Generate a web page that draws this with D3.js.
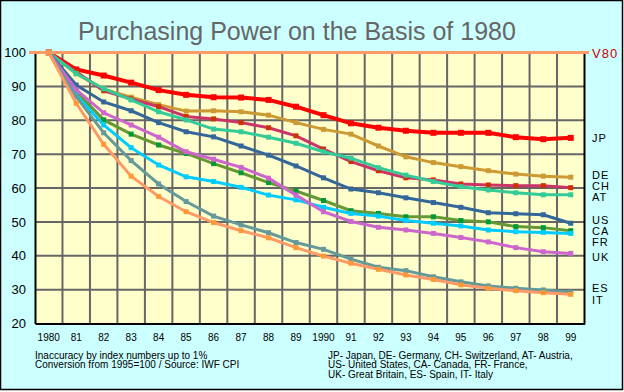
<!DOCTYPE html>
<html><head><meta charset="utf-8">
<script src="https://cdn.jsdelivr.net/npm/d3@7"></script>
<style>body{margin:0;background:#fff}svg{display:block}text{font-family:"Liberation Sans",Arial,sans-serif}</style>
</head><body><svg id="c" width="624" height="392"></svg>
<script>
const years = ["1980","81","82","83","84","85","86","87","88","89","1990","91","92","93","94","95","96","97","98","99"];
const yTicks = [20,30,40,50,60,70,80,90,100];
const seriesNames = ["JP","DE","CH","AT","US","CA","FR","UK","ES","IT"];
const JP = [100,95.0,93.2,91.1,88.9,87.5,86.8,86.7,86.0,84.0,81.5,79.1,77.8,76.9,76.3,76.3,76.3,75.0,74.4,74.8];
const DE = [100,93.7,89.2,86.8,84.6,82.7,82.8,82.5,81.5,79.3,77.3,75.9,72.4,69.2,67.5,66.3,65.1,64.1,63.5,63.2];
const CH = [100,94.3,88.7,86.3,84.0,81.1,80.4,79.3,77.8,75.4,71.5,67.8,65.1,63.0,62.4,61.2,60.9,60.7,60.7,60.1];
const AT = [100,93.8,89.3,86.0,82.5,80.1,77.4,76.6,75.0,73.2,70.7,68.8,66.0,63.8,61.9,60.4,59.4,58.6,58.0,58.0];
const US = [100,90.4,85.4,82.8,79.3,76.6,75.1,72.4,69.7,66.5,63.0,59.7,58.6,57.1,55.7,54.3,52.7,52.4,52.1,49.6];
const CA = [100,88.5,80.1,75.9,72.7,70.2,67.2,64.5,61.6,59.1,56.3,53.3,52.5,51.5,51.5,50.4,50.0,48.6,48.3,47.4];
const FR = [100,87.5,78.6,71.9,66.8,63.3,61.9,60.2,57.9,56.5,54.3,52.5,51.7,50.4,49.6,48.8,47.6,47.1,46.9,46.6];
const UK = [100,89.0,82.2,78.6,75.0,70.7,68.5,66.1,62.9,57.9,53.0,50.1,48.4,47.6,46.6,45.4,44.1,42.4,41.2,40.7];
const ES = [100,87.0,76.3,68.1,61.2,56.0,51.7,49.1,46.8,43.9,41.9,39.0,36.6,35.6,33.8,32.3,31.1,30.4,29.9,29.3];
const IT = [100,85.0,72.9,63.5,57.5,53.0,49.8,47.4,45.3,42.4,39.9,37.8,36.0,34.3,33.0,31.4,30.4,29.7,29.1,28.6];
const seriesValues = [JP,DE,CH,AT,US,CA,FR,UK,ES,IT];
const lineColors = ["#FF0000","#CC9933","#CC3366","#33CC99","#336699","#669933","#00CCFF","#CC66CC","#669999","#FF9966"];
const markerColors = ["#FF0000","#CC9933","#CC3300","#33CC99","#336699","#009933","#00CCFF","#CC66CC","#669999","#FF9933"];
const labelValues = [74.8,63.8,60.6,57.3,50.6,47.3,44.1,39.6,30.5,26.9];
const baseLine = 100, baseLabel = "V80";
const title = "Purchasing Power on the Basis of 1980";
const notesLeft = ["Inaccuracy by index numbers up to 1%","Conversion from 1995=100 / Source: IWF CPI"];
const notesRight = ["JP- Japan, DE- Germany, CH- Switzerland, AT- Austria,","US- United States, CA- Canada, FR- France,","UK- Great Britain, ES- Spain, IT- Italy"];

const svg = d3.select("#c");
const L = 35, R = 584.5, T = 52.5, B = 323.5;
svg.append("rect").attr("x",0.5).attr("y",0.5).attr("width",622).attr("height",389)
  .attr("fill","#CCFFFF").attr("stroke","#000").attr("stroke-width",1.5);
svg.append("rect").attr("x",L).attr("y",T).attr("width",R-L).attr("height",B-T).attr("fill","#FFFFCC");

const x = d3.scaleBand().domain(years).range([L,R]);
const xc = d => x(d) + x.bandwidth()/2;
const y = d3.scaleLinear().domain([20,100]).range([B,T]);

// grid
const g = svg.append("g");
g.selectAll(".hg").data(yTicks.filter(v=>v>20&&v<100)).join("line")
  .attr("x1",L).attr("x2",R).attr("y1",d=>y(d)).attr("y2",d=>y(d))
  .attr("stroke","#666").attr("stroke-width",2);
g.selectAll(".vg").data(years.slice(1)).join("line")
  .attr("x1",d=>x(d)).attr("x2",d=>x(d)).attr("y1",T).attr("y2",B)
  .attr("stroke","#666").attr("stroke-width",2);

// axes
const yAxis = svg.append("g").attr("transform",`translate(${L},0)`)
  .call(d3.axisLeft(y).tickValues(yTicks).tickSize(0).tickPadding(9));
yAxis.select(".domain").attr("stroke","#000").attr("stroke-width",2);
yAxis.selectAll("text").attr("font-size",13).attr("fill","#000");
const xAxis = svg.append("g").attr("transform",`translate(0,${B})`)
  .call(d3.axisBottom(x).tickSize(0).tickPadding(10));
xAxis.select(".domain").attr("stroke","#000").attr("stroke-width",2);
xAxis.selectAll("text").attr("font-size",10).attr("fill","#000");
svg.append("line").attr("x1",R).attr("x2",R).attr("y1",T).attr("y2",B+1).attr("stroke","#000").attr("stroke-width",2);

// series
const line = d3.line().x((d,i)=>xc(years[i])).y(d=>y(d));
seriesValues.forEach((vals,k)=>{
  svg.append("path").attr("d",line(vals)).attr("fill","none")
    .attr("stroke",lineColors[k]).attr("stroke-width",k===0?4:3);
  const ms = k===0?6:5;
  svg.append("g").selectAll("rect").data(vals).join("rect")
    .attr("x",(d,i)=>xc(years[i])-ms/2).attr("y",d=>y(d)-ms/2)
    .attr("width",ms).attr("height",ms).attr("fill",markerColors[k]);
});

// base line
svg.append("line").attr("x1",29).attr("x2",589).attr("y1",y(baseLine)).attr("y2",y(baseLine))
  .attr("stroke","#FF9966").attr("stroke-width",3);
svg.append("text").attr("x",592).attr("y",y(baseLine)+5).attr("font-size",13).attr("letter-spacing",1)
  .attr("fill","#CC0000").text(baseLabel);

// series labels
svg.selectAll(".sl").data(seriesNames).join("text")
  .attr("x",592).attr("y",(d,i)=>y(labelValues[i])+4).attr("font-size",11).attr("letter-spacing",1)
  .attr("fill","#000").text(d=>d);

// title
svg.append("text").attr("x",297).attr("y",40).attr("text-anchor","middle").attr("font-size",25)
  .attr("fill","#666").text(title);

// notes
svg.selectAll(".nl").data(notesLeft).join("text").attr("x",35).attr("y",(d,i)=>358.5+i*9.6)
  .attr("font-size",10).attr("fill","#000").text(d=>d);
svg.selectAll(".nr").data(notesRight).join("text").attr("x",328).attr("y",(d,i)=>358.5+i*9.6)
  .attr("font-size",10).attr("fill","#000").text(d=>d);
</script></body></html>
